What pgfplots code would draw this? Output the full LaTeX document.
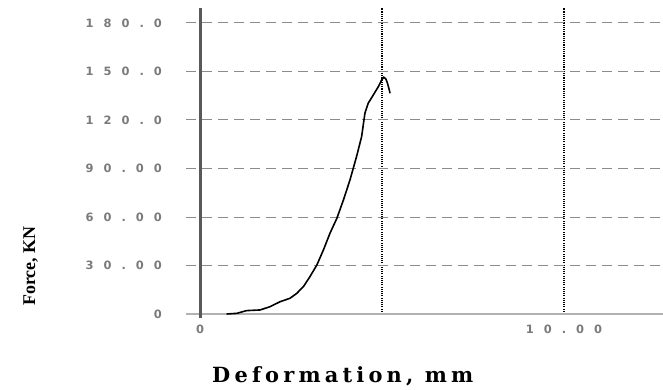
\documentclass[border=0pt]{standalone}
\usepackage{pgfplots}
\pgfplotsset{compat=1.18}
\usepackage{fontspec}
\setmainfont{Liberation Serif}
\newfontfamily\tickfont{DejaVu Sans}[LetterSpace=87]
\newfontfamily\labfont{DejaVu Serif}[LetterSpace=20]
\definecolor{tickgray}{HTML}{7A7A7A}
\definecolor{gridgray}{HTML}{8C8C8C}
\newcommand\tl[1]{{\fontsize{11.5}{12}\tickfont\bfseries #1}}
\begin{document}
\begin{tikzpicture}[x=1bp,y=1bp]
\useasboundingbox (0,0) rectangle (663,389);
\begin{axis}[
  at={(186bp,75bp)}, anchor=south west,
  scale only axis, width=477bp, height=306bp,
  xmin=-0.385, xmax=12.72, ymin=0, ymax=189.2,
  axis line style={draw=none},
  major tick length=0pt,
  xtick={0,5,10}, xticklabels={\tl{0},,\tl{10.00}},
  ytick={0,30,60,90,120,150,180},
  yticklabels={\tl{0},\tl{30.00},\tl{60.00},\tl{90.00},\tl{120.0},\tl{150.0},\tl{180.0}},
  ymajorgrids, xmajorgrids,
  y grid style={gridgray, line width=0.9bp, dash pattern=on 10bp off 6bp},
  x grid style={black, line width=1.4bp, dash pattern=on 1.1bp off 1.1bp},
  yticklabel style={text=tickgray, anchor=east, inner sep=0pt, xshift=-24bp},
  xticklabel style={text=tickgray, anchor=north, inner sep=0pt, yshift=-11bp},
  clip=false,
]
\addplot[gray!60, line width=1.6bp] coordinates {(-0.385,0) (12.72,0)};
\addplot[black!65, line width=3bp] coordinates {(0,-2.5) (0,189.2)};
\addplot[black, line width=1.6bp] coordinates {
(0.73,0) (1.01,0.4) (1.28,2.1) (1.65,2.5) (1.92,4.5) (2.20,7.6) (2.47,9.7)
(2.66,12.8) (2.84,16.9) (3.02,23.1) (3.21,30.3) (3.39,39.6) (3.57,49.9)
(3.76,59.2) (3.94,70.5) (4.12,82.9) (4.30,97.3) (4.44,109.7) (4.53,124.1)
(4.62,130.3) (4.76,135.4) (4.90,140.6) (4.99,144.7) (5.05,146.4) (5.11,145.1)
(5.15,142.7) (5.20,138.5) (5.22,136.5)};
\end{axis}
\node[anchor=base west, inner sep=0pt] at (212,7) {\fontsize{21}{22}\labfont\bfseries Deformation, mm};
\node[anchor=base, inner sep=0pt, rotate=90] at (35,123) {\fontsize{18}{20}\selectfont\bfseries Force, KN};
\end{tikzpicture}
\end{document}
